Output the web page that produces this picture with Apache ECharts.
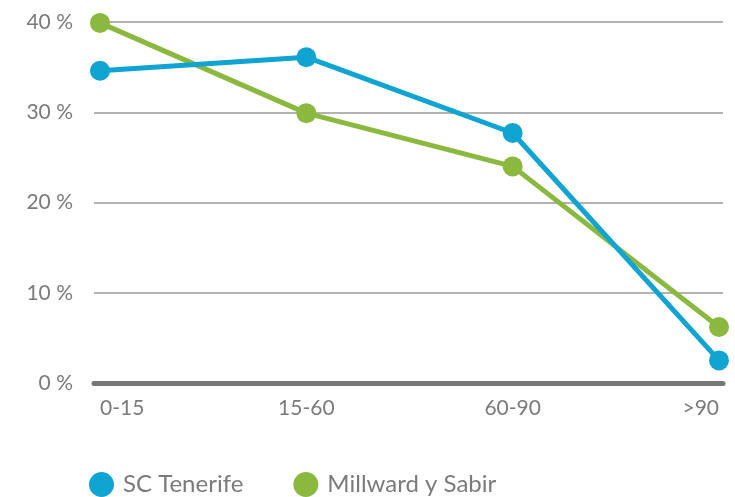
<!DOCTYPE html>
<html>
<head>
<meta charset="utf-8">
<script src="https://cdn.jsdelivr.net/npm/echarts@6/dist/echarts.min.js"></script>
<style>
  html, body { margin: 0; padding: 0; background: #fff; }
  #chart { width: 735px; height: 497px; }
</style>
</head>
<body>
<div id="chart"></div>
<script>
const categories = ['0-15', '15-60', '60-90', '>90'];
const tenerife = [34.6, 36.1, 27.7, 2.5];
const millward = [39.9, 29.9, 24.0, 6.2];

const font = 'Lato, "Open Sans", sans-serif';
const grey = '#7b7b7b';

const chart = echarts.init(document.getElementById('chart'));

chart.setOption({
  animation: false,
  textStyle: { fontFamily: font },
  grid: [
    // background grid: gridlines + thick base line
    { left: 94, right: 12, top: 22, bottom: 114 },
    // data grid, points a bit inside
    { left: 100, right: 16, top: 22, bottom: 114 }
  ],
  legend: {
    left: 84,
    top: 467,
    padding: 5,
    icon: 'circle',
    itemWidth: 25,
    itemHeight: 25,
    itemGap: 50,
    textStyle: { fontSize: 24, lineHeight: 25, color: grey, fontFamily: font, padding: [0, 0, 0, 4] },
    data: ['SC Tenerife', 'Millward y Sabir']
  },
  xAxis: [
    {
      gridIndex: 0,
      type: 'value',
      min: 0,
      max: 1,
      axisLine: { show: true, lineStyle: { color: '#777', width: 5 } },
      axisTick: { show: false },
      axisLabel: { show: false },
      splitLine: { show: false }
    },
    {
      gridIndex: 1,
      type: 'category',
      data: categories,
      boundaryGap: false,
      axisLine: { show: false },
      axisTick: { show: false },
      splitLine: { show: false },
      axisLabel: {
        color: grey,
        fontSize: 21,
        margin: 15,
        alignMinLabel: 'left',
        alignMaxLabel: 'right'
      }
    }
  ],
  yAxis: [
    {
      gridIndex: 0,
      type: 'value',
      min: 0,
      max: 40,
      interval: 10,
      axisLine: { show: false },
      axisTick: { show: false },
      axisLabel: { color: grey, fontSize: 21, margin: 21, formatter: '{value} %' },
      splitLine: { lineStyle: { color: '#9a9a9a', width: 1.5 } }
    },
    {
      gridIndex: 1,
      type: 'value',
      min: 0,
      max: 40,
      show: false,
      splitLine: { show: false }
    }
  ],
  series: [
    {
      name: 'SC Tenerife',
      type: 'line',
      xAxisIndex: 1,
      yAxisIndex: 1,
      data: tenerife,
      z: 4,
      color: '#0fa4d2',
      symbol: 'circle',
      symbolSize: 20,
      lineStyle: { width: 5 }
    },
    {
      name: 'Millward y Sabir',
      type: 'line',
      xAxisIndex: 1,
      yAxisIndex: 1,
      data: millward,
      z: 3,
      color: '#8bb83f',
      symbol: 'circle',
      symbolSize: 20,
      lineStyle: { width: 5 }
    }
  ]
});
</script>
</body>
</html>
